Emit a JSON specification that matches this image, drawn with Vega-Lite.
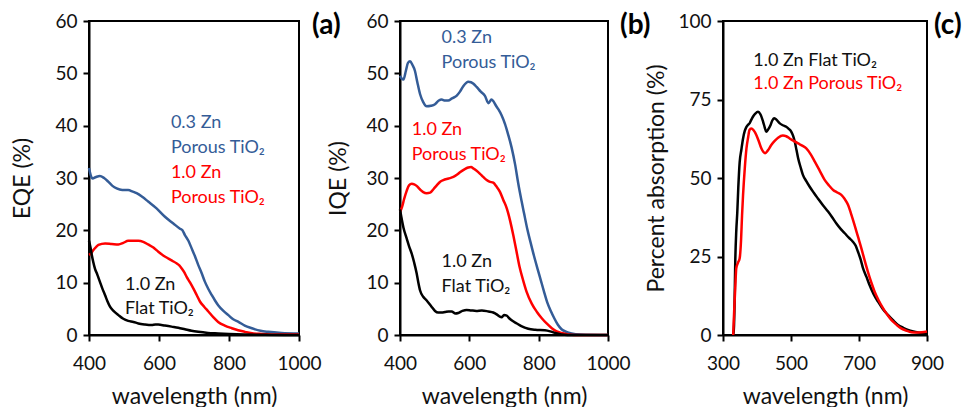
{
  "$schema": "https://vega.github.io/schema/vega-lite/v6.json",
  "autosize": {"type": "none"},
  "padding": {"left": 89, "top": 21, "right": 881, "bottom": 386},
  "background": "white",
  "config": {
    "font": "Lato",
    "view": {"stroke": "#000", "strokeWidth": 2},
    "axis": {
      "grid": false,
      "domainColor": "#000",
      "domainWidth": 2,
      "tickColor": "#000",
      "tickWidth": 2,
      "tickSize": 6,
      "labelFont": "Lato",
      "labelFontSize": 19,
      "labelColor": "#111",
      "labelFlush": false,
      "labelOverlap": false,
      "titleFont": "Lato",
      "titleFontSize": 23,
      "titleFontWeight": "normal",
      "titleColor": "#111",
      "format": "d"
    },
    "axisX": {"labelPadding": 13, "titleBaseline": "alphabetic", "titleY": 68},
    "axisY": {"labelPadding": 6, "titleAngle": 270, "titleBaseline": "middle", "titleAlign": "center", "titleY": 157},
    "text": {"font": "Lato", "fontSize": 18, "align": "left", "baseline": "alphabetic"}
  },
  "datasets": {
    "a": [
      {"series": "0.3 Zn Porous", "wl": 400, "v": 31.9}, {"series": "0.3 Zn Porous", "wl": 405, "v": 30.5}, {"series": "0.3 Zn Porous", "wl": 410, "v": 29.9}, {"series": "0.3 Zn Porous", "wl": 420, "v": 30.2}, {"series": "0.3 Zn Porous", "wl": 431, "v": 30.4}, {"series": "0.3 Zn Porous", "wl": 443, "v": 30.0}, {"series": "0.3 Zn Porous", "wl": 455, "v": 29.3}, {"series": "0.3 Zn Porous", "wl": 467, "v": 28.5}, {"series": "0.3 Zn Porous", "wl": 479, "v": 28.0}, {"series": "0.3 Zn Porous", "wl": 495, "v": 27.7}, {"series": "0.3 Zn Porous", "wl": 512, "v": 27.7}, {"series": "0.3 Zn Porous", "wl": 525, "v": 27.4}, {"series": "0.3 Zn Porous", "wl": 536, "v": 27.1}, {"series": "0.3 Zn Porous", "wl": 552, "v": 26.4}, {"series": "0.3 Zn Porous", "wl": 569, "v": 25.5}, {"series": "0.3 Zn Porous", "wl": 593, "v": 24.2}, {"series": "0.3 Zn Porous", "wl": 617, "v": 22.6}, {"series": "0.3 Zn Porous", "wl": 641, "v": 21.3}, {"series": "0.3 Zn Porous", "wl": 660, "v": 20.3}, {"series": "0.3 Zn Porous", "wl": 667, "v": 20.0}, {"series": "0.3 Zn Porous", "wl": 674, "v": 19.1}, {"series": "0.3 Zn Porous", "wl": 684, "v": 18.0}, {"series": "0.3 Zn Porous", "wl": 693, "v": 16.6}, {"series": "0.3 Zn Porous", "wl": 703, "v": 15.0}, {"series": "0.3 Zn Porous", "wl": 712, "v": 13.4}, {"series": "0.3 Zn Porous", "wl": 722, "v": 11.8}, {"series": "0.3 Zn Porous", "wl": 731, "v": 10.2}, {"series": "0.3 Zn Porous", "wl": 741, "v": 8.8}, {"series": "0.3 Zn Porous", "wl": 751, "v": 7.6}, {"series": "0.3 Zn Porous", "wl": 760, "v": 6.6}, {"series": "0.3 Zn Porous", "wl": 769, "v": 5.7}, {"series": "0.3 Zn Porous", "wl": 784, "v": 4.6}, {"series": "0.3 Zn Porous", "wl": 798, "v": 3.8}, {"series": "0.3 Zn Porous", "wl": 812, "v": 3.0}, {"series": "0.3 Zn Porous", "wl": 827, "v": 2.5}, {"series": "0.3 Zn Porous", "wl": 845, "v": 1.8}, {"series": "0.3 Zn Porous", "wl": 865, "v": 1.3}, {"series": "0.3 Zn Porous", "wl": 890, "v": 0.8}, {"series": "0.3 Zn Porous", "wl": 912, "v": 0.6}, {"series": "0.3 Zn Porous", "wl": 950, "v": 0.4}, {"series": "0.3 Zn Porous", "wl": 1000, "v": 0.3},
      {"series": "1.0 Zn Porous", "wl": 400, "v": 15.3}, {"series": "1.0 Zn Porous", "wl": 406, "v": 15.6}, {"series": "1.0 Zn Porous", "wl": 412, "v": 16.2}, {"series": "1.0 Zn Porous", "wl": 420, "v": 16.8}, {"series": "1.0 Zn Porous", "wl": 427, "v": 17.2}, {"series": "1.0 Zn Porous", "wl": 446, "v": 17.5}, {"series": "1.0 Zn Porous", "wl": 465, "v": 17.4}, {"series": "1.0 Zn Porous", "wl": 484, "v": 17.3}, {"series": "1.0 Zn Porous", "wl": 498, "v": 17.6}, {"series": "1.0 Zn Porous", "wl": 512, "v": 18.0}, {"series": "1.0 Zn Porous", "wl": 541, "v": 18.0}, {"series": "1.0 Zn Porous", "wl": 555, "v": 17.8}, {"series": "1.0 Zn Porous", "wl": 569, "v": 17.3}, {"series": "1.0 Zn Porous", "wl": 584, "v": 16.7}, {"series": "1.0 Zn Porous", "wl": 598, "v": 15.9}, {"series": "1.0 Zn Porous", "wl": 612, "v": 15.2}, {"series": "1.0 Zn Porous", "wl": 627, "v": 14.6}, {"series": "1.0 Zn Porous", "wl": 640, "v": 14.1}, {"series": "1.0 Zn Porous", "wl": 650, "v": 13.7}, {"series": "1.0 Zn Porous", "wl": 658, "v": 13.3}, {"series": "1.0 Zn Porous", "wl": 665, "v": 12.7}, {"series": "1.0 Zn Porous", "wl": 672, "v": 12.0}, {"series": "1.0 Zn Porous", "wl": 679, "v": 11.1}, {"series": "1.0 Zn Porous", "wl": 689, "v": 10.0}, {"series": "1.0 Zn Porous", "wl": 698, "v": 8.9}, {"series": "1.0 Zn Porous", "wl": 708, "v": 7.6}, {"series": "1.0 Zn Porous", "wl": 717, "v": 6.4}, {"series": "1.0 Zn Porous", "wl": 729, "v": 5.4}, {"series": "1.0 Zn Porous", "wl": 741, "v": 4.5}, {"series": "1.0 Zn Porous", "wl": 755, "v": 3.4}, {"series": "1.0 Zn Porous", "wl": 769, "v": 2.5}, {"series": "1.0 Zn Porous", "wl": 788, "v": 1.8}, {"series": "1.0 Zn Porous", "wl": 808, "v": 1.3}, {"series": "1.0 Zn Porous", "wl": 826, "v": 0.9}, {"series": "1.0 Zn Porous", "wl": 846, "v": 0.6}, {"series": "1.0 Zn Porous", "wl": 870, "v": 0.3}, {"series": "1.0 Zn Porous", "wl": 893, "v": 0.2}, {"series": "1.0 Zn Porous", "wl": 950, "v": 0.1}, {"series": "1.0 Zn Porous", "wl": 1000, "v": 0.1},
      {"series": "1.0 Zn Flat", "wl": 400, "v": 18.0}, {"series": "1.0 Zn Flat", "wl": 404, "v": 16.8}, {"series": "1.0 Zn Flat", "wl": 408, "v": 15.3}, {"series": "1.0 Zn Flat", "wl": 412, "v": 14.0}, {"series": "1.0 Zn Flat", "wl": 417, "v": 12.7}, {"series": "1.0 Zn Flat", "wl": 424, "v": 11.5}, {"series": "1.0 Zn Flat", "wl": 431, "v": 10.2}, {"series": "1.0 Zn Flat", "wl": 438, "v": 8.9}, {"series": "1.0 Zn Flat", "wl": 446, "v": 7.6}, {"series": "1.0 Zn Flat", "wl": 453, "v": 6.4}, {"series": "1.0 Zn Flat", "wl": 460, "v": 5.4}, {"series": "1.0 Zn Flat", "wl": 470, "v": 4.6}, {"series": "1.0 Zn Flat", "wl": 484, "v": 3.8}, {"series": "1.0 Zn Flat", "wl": 498, "v": 3.1}, {"series": "1.0 Zn Flat", "wl": 512, "v": 2.7}, {"series": "1.0 Zn Flat", "wl": 527, "v": 2.5}, {"series": "1.0 Zn Flat", "wl": 541, "v": 2.2}, {"series": "1.0 Zn Flat", "wl": 560, "v": 2.0}, {"series": "1.0 Zn Flat", "wl": 579, "v": 1.9}, {"series": "1.0 Zn Flat", "wl": 590, "v": 2.0}, {"series": "1.0 Zn Flat", "wl": 598, "v": 2.0}, {"series": "1.0 Zn Flat", "wl": 617, "v": 1.8}, {"series": "1.0 Zn Flat", "wl": 636, "v": 1.6}, {"series": "1.0 Zn Flat", "wl": 655, "v": 1.4}, {"series": "1.0 Zn Flat", "wl": 674, "v": 1.1}, {"series": "1.0 Zn Flat", "wl": 693, "v": 0.8}, {"series": "1.0 Zn Flat", "wl": 712, "v": 0.6}, {"series": "1.0 Zn Flat", "wl": 740, "v": 0.4}, {"series": "1.0 Zn Flat", "wl": 769, "v": 0.3}, {"series": "1.0 Zn Flat", "wl": 800, "v": 0.2}, {"series": "1.0 Zn Flat", "wl": 846, "v": 0.1}, {"series": "1.0 Zn Flat", "wl": 900, "v": 0.05}, {"series": "1.0 Zn Flat", "wl": 1000, "v": 0.0}
    ],
    "b": [
      {"series": "0.3 Zn Porous", "wl": 400, "v": 49.5}, {"series": "0.3 Zn Porous", "wl": 405, "v": 49.0}, {"series": "0.3 Zn Porous", "wl": 410, "v": 48.8}, {"series": "0.3 Zn Porous", "wl": 417, "v": 50.5}, {"series": "0.3 Zn Porous", "wl": 423, "v": 52.0}, {"series": "0.3 Zn Porous", "wl": 429, "v": 52.3}, {"series": "0.3 Zn Porous", "wl": 436, "v": 51.6}, {"series": "0.3 Zn Porous", "wl": 443, "v": 50.5}, {"series": "0.3 Zn Porous", "wl": 450, "v": 48.3}, {"series": "0.3 Zn Porous", "wl": 458, "v": 46.0}, {"series": "0.3 Zn Porous", "wl": 467, "v": 44.5}, {"series": "0.3 Zn Porous", "wl": 477, "v": 43.7}, {"series": "0.3 Zn Porous", "wl": 489, "v": 43.8}, {"series": "0.3 Zn Porous", "wl": 501, "v": 44.1}, {"series": "0.3 Zn Porous", "wl": 512, "v": 44.8}, {"series": "0.3 Zn Porous", "wl": 520, "v": 45.0}, {"series": "0.3 Zn Porous", "wl": 530, "v": 44.8}, {"series": "0.3 Zn Porous", "wl": 539, "v": 44.8}, {"series": "0.3 Zn Porous", "wl": 550, "v": 45.2}, {"series": "0.3 Zn Porous", "wl": 563, "v": 45.7}, {"series": "0.3 Zn Porous", "wl": 573, "v": 46.5}, {"series": "0.3 Zn Porous", "wl": 583, "v": 47.6}, {"series": "0.3 Zn Porous", "wl": 597, "v": 48.4}, {"series": "0.3 Zn Porous", "wl": 605, "v": 48.3}, {"series": "0.3 Zn Porous", "wl": 612, "v": 48.0}, {"series": "0.3 Zn Porous", "wl": 621, "v": 47.4}, {"series": "0.3 Zn Porous", "wl": 633, "v": 46.5}, {"series": "0.3 Zn Porous", "wl": 645, "v": 45.7}, {"series": "0.3 Zn Porous", "wl": 655, "v": 44.3}, {"series": "0.3 Zn Porous", "wl": 664, "v": 45.0}, {"series": "0.3 Zn Porous", "wl": 669, "v": 44.7}, {"series": "0.3 Zn Porous", "wl": 677, "v": 43.8}, {"series": "0.3 Zn Porous", "wl": 684, "v": 43.1}, {"series": "0.3 Zn Porous", "wl": 693, "v": 42.0}, {"series": "0.3 Zn Porous", "wl": 703, "v": 40.3}, {"series": "0.3 Zn Porous", "wl": 712, "v": 38.3}, {"series": "0.3 Zn Porous", "wl": 722, "v": 35.8}, {"series": "0.3 Zn Porous", "wl": 732, "v": 32.6}, {"series": "0.3 Zn Porous", "wl": 741, "v": 29.0}, {"series": "0.3 Zn Porous", "wl": 751, "v": 25.5}, {"series": "0.3 Zn Porous", "wl": 758, "v": 23.2}, {"series": "0.3 Zn Porous", "wl": 767, "v": 20.3}, {"series": "0.3 Zn Porous", "wl": 777, "v": 17.6}, {"series": "0.3 Zn Porous", "wl": 787, "v": 15.0}, {"series": "0.3 Zn Porous", "wl": 797, "v": 12.6}, {"series": "0.3 Zn Porous", "wl": 806, "v": 10.5}, {"series": "0.3 Zn Porous", "wl": 815, "v": 8.4}, {"series": "0.3 Zn Porous", "wl": 825, "v": 6.2}, {"series": "0.3 Zn Porous", "wl": 835, "v": 4.6}, {"series": "0.3 Zn Porous", "wl": 845, "v": 3.2}, {"series": "0.3 Zn Porous", "wl": 855, "v": 2.0}, {"series": "0.3 Zn Porous", "wl": 866, "v": 1.1}, {"series": "0.3 Zn Porous", "wl": 880, "v": 0.6}, {"series": "0.3 Zn Porous", "wl": 895, "v": 0.3}, {"series": "0.3 Zn Porous", "wl": 920, "v": 0.1}, {"series": "0.3 Zn Porous", "wl": 1000, "v": 0.0},
      {"series": "1.0 Zn Porous", "wl": 400, "v": 23.5}, {"series": "1.0 Zn Porous", "wl": 406, "v": 24.5}, {"series": "1.0 Zn Porous", "wl": 412, "v": 26.0}, {"series": "1.0 Zn Porous", "wl": 419, "v": 27.5}, {"series": "1.0 Zn Porous", "wl": 426, "v": 28.6}, {"series": "1.0 Zn Porous", "wl": 434, "v": 28.9}, {"series": "1.0 Zn Porous", "wl": 441, "v": 28.8}, {"series": "1.0 Zn Porous", "wl": 448, "v": 28.5}, {"series": "1.0 Zn Porous", "wl": 458, "v": 27.8}, {"series": "1.0 Zn Porous", "wl": 467, "v": 27.3}, {"series": "1.0 Zn Porous", "wl": 477, "v": 27.1}, {"series": "1.0 Zn Porous", "wl": 487, "v": 27.2}, {"series": "1.0 Zn Porous", "wl": 497, "v": 27.9}, {"series": "1.0 Zn Porous", "wl": 506, "v": 28.6}, {"series": "1.0 Zn Porous", "wl": 516, "v": 29.3}, {"series": "1.0 Zn Porous", "wl": 525, "v": 29.6}, {"series": "1.0 Zn Porous", "wl": 540, "v": 29.9}, {"series": "1.0 Zn Porous", "wl": 554, "v": 30.2}, {"series": "1.0 Zn Porous", "wl": 564, "v": 30.6}, {"series": "1.0 Zn Porous", "wl": 573, "v": 31.1}, {"series": "1.0 Zn Porous", "wl": 587, "v": 31.7}, {"series": "1.0 Zn Porous", "wl": 597, "v": 32.0}, {"series": "1.0 Zn Porous", "wl": 605, "v": 32.1}, {"series": "1.0 Zn Porous", "wl": 612, "v": 31.8}, {"series": "1.0 Zn Porous", "wl": 621, "v": 31.4}, {"series": "1.0 Zn Porous", "wl": 631, "v": 30.8}, {"series": "1.0 Zn Porous", "wl": 640, "v": 30.2}, {"series": "1.0 Zn Porous", "wl": 650, "v": 29.6}, {"series": "1.0 Zn Porous", "wl": 658, "v": 29.3}, {"series": "1.0 Zn Porous", "wl": 669, "v": 29.1}, {"series": "1.0 Zn Porous", "wl": 678, "v": 28.4}, {"series": "1.0 Zn Porous", "wl": 688, "v": 27.4}, {"series": "1.0 Zn Porous", "wl": 698, "v": 25.8}, {"series": "1.0 Zn Porous", "wl": 708, "v": 24.2}, {"series": "1.0 Zn Porous", "wl": 717, "v": 22.0}, {"series": "1.0 Zn Porous", "wl": 727, "v": 19.0}, {"series": "1.0 Zn Porous", "wl": 736, "v": 16.0}, {"series": "1.0 Zn Porous", "wl": 745, "v": 13.0}, {"series": "1.0 Zn Porous", "wl": 755, "v": 10.5}, {"series": "1.0 Zn Porous", "wl": 765, "v": 8.3}, {"series": "1.0 Zn Porous", "wl": 780, "v": 6.0}, {"series": "1.0 Zn Porous", "wl": 795, "v": 4.4}, {"series": "1.0 Zn Porous", "wl": 809, "v": 3.2}, {"series": "1.0 Zn Porous", "wl": 823, "v": 2.2}, {"series": "1.0 Zn Porous", "wl": 838, "v": 1.3}, {"series": "1.0 Zn Porous", "wl": 852, "v": 0.7}, {"series": "1.0 Zn Porous", "wl": 866, "v": 0.4}, {"series": "1.0 Zn Porous", "wl": 885, "v": 0.1}, {"series": "1.0 Zn Porous", "wl": 920, "v": 0.0}, {"series": "1.0 Zn Porous", "wl": 1000, "v": 0.0},
      {"series": "1.0 Zn Flat", "wl": 400, "v": 24.0}, {"series": "1.0 Zn Flat", "wl": 404, "v": 22.5}, {"series": "1.0 Zn Flat", "wl": 410, "v": 20.5}, {"series": "1.0 Zn Flat", "wl": 419, "v": 18.5}, {"series": "1.0 Zn Flat", "wl": 426, "v": 17.0}, {"series": "1.0 Zn Flat", "wl": 434, "v": 15.5}, {"series": "1.0 Zn Flat", "wl": 441, "v": 13.8}, {"series": "1.0 Zn Flat", "wl": 448, "v": 11.8}, {"series": "1.0 Zn Flat", "wl": 453, "v": 10.0}, {"series": "1.0 Zn Flat", "wl": 458, "v": 8.5}, {"series": "1.0 Zn Flat", "wl": 467, "v": 7.3}, {"series": "1.0 Zn Flat", "wl": 477, "v": 6.6}, {"series": "1.0 Zn Flat", "wl": 490, "v": 5.5}, {"series": "1.0 Zn Flat", "wl": 501, "v": 4.6}, {"series": "1.0 Zn Flat", "wl": 510, "v": 4.3}, {"series": "1.0 Zn Flat", "wl": 520, "v": 4.3}, {"series": "1.0 Zn Flat", "wl": 530, "v": 4.4}, {"series": "1.0 Zn Flat", "wl": 540, "v": 4.5}, {"series": "1.0 Zn Flat", "wl": 549, "v": 4.5}, {"series": "1.0 Zn Flat", "wl": 560, "v": 4.1}, {"series": "1.0 Zn Flat", "wl": 568, "v": 4.2}, {"series": "1.0 Zn Flat", "wl": 580, "v": 4.6}, {"series": "1.0 Zn Flat", "wl": 592, "v": 4.8}, {"series": "1.0 Zn Flat", "wl": 605, "v": 4.7}, {"series": "1.0 Zn Flat", "wl": 620, "v": 4.6}, {"series": "1.0 Zn Flat", "wl": 636, "v": 4.7}, {"series": "1.0 Zn Flat", "wl": 655, "v": 4.5}, {"series": "1.0 Zn Flat", "wl": 669, "v": 4.3}, {"series": "1.0 Zn Flat", "wl": 680, "v": 3.9}, {"series": "1.0 Zn Flat", "wl": 688, "v": 3.5}, {"series": "1.0 Zn Flat", "wl": 693, "v": 3.4}, {"series": "1.0 Zn Flat", "wl": 700, "v": 3.8}, {"series": "1.0 Zn Flat", "wl": 708, "v": 3.7}, {"series": "1.0 Zn Flat", "wl": 715, "v": 3.2}, {"series": "1.0 Zn Flat", "wl": 722, "v": 2.8}, {"series": "1.0 Zn Flat", "wl": 737, "v": 2.2}, {"series": "1.0 Zn Flat", "wl": 750, "v": 1.7}, {"series": "1.0 Zn Flat", "wl": 770, "v": 1.2}, {"series": "1.0 Zn Flat", "wl": 790, "v": 1.0}, {"series": "1.0 Zn Flat", "wl": 818, "v": 0.9}, {"series": "1.0 Zn Flat", "wl": 833, "v": 0.7}, {"series": "1.0 Zn Flat", "wl": 847, "v": 0.4}, {"series": "1.0 Zn Flat", "wl": 866, "v": 0.1}, {"series": "1.0 Zn Flat", "wl": 900, "v": 0.0}, {"series": "1.0 Zn Flat", "wl": 1000, "v": 0.0}
    ],
    "c": [
      {"series": "1.0 Zn Flat", "wl": 330, "v": 0}, {"series": "1.0 Zn Flat", "wl": 332, "v": 2}, {"series": "1.0 Zn Flat", "wl": 334, "v": 10}, {"series": "1.0 Zn Flat", "wl": 336, "v": 23}, {"series": "1.0 Zn Flat", "wl": 339, "v": 33}, {"series": "1.0 Zn Flat", "wl": 342, "v": 39}, {"series": "1.0 Zn Flat", "wl": 345, "v": 47}, {"series": "1.0 Zn Flat", "wl": 349, "v": 55}, {"series": "1.0 Zn Flat", "wl": 354, "v": 59}, {"series": "1.0 Zn Flat", "wl": 359, "v": 62.6}, {"series": "1.0 Zn Flat", "wl": 364, "v": 65}, {"series": "1.0 Zn Flat", "wl": 369, "v": 66.3}, {"series": "1.0 Zn Flat", "wl": 374, "v": 67}, {"series": "1.0 Zn Flat", "wl": 378, "v": 67.4}, {"series": "1.0 Zn Flat", "wl": 383, "v": 68.5}, {"series": "1.0 Zn Flat", "wl": 388, "v": 69.5}, {"series": "1.0 Zn Flat", "wl": 395, "v": 70.5}, {"series": "1.0 Zn Flat", "wl": 403, "v": 71.1}, {"series": "1.0 Zn Flat", "wl": 410, "v": 70.3}, {"series": "1.0 Zn Flat", "wl": 418, "v": 67.9}, {"series": "1.0 Zn Flat", "wl": 423, "v": 66}, {"series": "1.0 Zn Flat", "wl": 427, "v": 64.7}, {"series": "1.0 Zn Flat", "wl": 433, "v": 65.5}, {"series": "1.0 Zn Flat", "wl": 440, "v": 66.9}, {"series": "1.0 Zn Flat", "wl": 445, "v": 68.3}, {"series": "1.0 Zn Flat", "wl": 450, "v": 69.0}, {"series": "1.0 Zn Flat", "wl": 456, "v": 68.7}, {"series": "1.0 Zn Flat", "wl": 467, "v": 67.4}, {"series": "1.0 Zn Flat", "wl": 476, "v": 66.8}, {"series": "1.0 Zn Flat", "wl": 486, "v": 66.3}, {"series": "1.0 Zn Flat", "wl": 494, "v": 65.6}, {"series": "1.0 Zn Flat", "wl": 501, "v": 64.7}, {"series": "1.0 Zn Flat", "wl": 506, "v": 63.5}, {"series": "1.0 Zn Flat", "wl": 511, "v": 61.6}, {"series": "1.0 Zn Flat", "wl": 516, "v": 59}, {"series": "1.0 Zn Flat", "wl": 521, "v": 56.3}, {"series": "1.0 Zn Flat", "wl": 528, "v": 53.5}, {"series": "1.0 Zn Flat", "wl": 535, "v": 51.0}, {"series": "1.0 Zn Flat", "wl": 545, "v": 49.0}, {"series": "1.0 Zn Flat", "wl": 555, "v": 47.2}, {"series": "1.0 Zn Flat", "wl": 567, "v": 45.3}, {"series": "1.0 Zn Flat", "wl": 579, "v": 43.5}, {"series": "1.0 Zn Flat", "wl": 594, "v": 41.3}, {"series": "1.0 Zn Flat", "wl": 609, "v": 39.3}, {"series": "1.0 Zn Flat", "wl": 621, "v": 37.5}, {"series": "1.0 Zn Flat", "wl": 633, "v": 35.6}, {"series": "1.0 Zn Flat", "wl": 646, "v": 33.8}, {"series": "1.0 Zn Flat", "wl": 658, "v": 32.4}, {"series": "1.0 Zn Flat", "wl": 670, "v": 31.0}, {"series": "1.0 Zn Flat", "wl": 682, "v": 29.7}, {"series": "1.0 Zn Flat", "wl": 690, "v": 28.5}, {"series": "1.0 Zn Flat", "wl": 697, "v": 26.5}, {"series": "1.0 Zn Flat", "wl": 705, "v": 24.0}, {"series": "1.0 Zn Flat", "wl": 712, "v": 21.2}, {"series": "1.0 Zn Flat", "wl": 722, "v": 18.5}, {"series": "1.0 Zn Flat", "wl": 731, "v": 15.9}, {"series": "1.0 Zn Flat", "wl": 743, "v": 13.0}, {"series": "1.0 Zn Flat", "wl": 756, "v": 10.6}, {"series": "1.0 Zn Flat", "wl": 770, "v": 8.3}, {"series": "1.0 Zn Flat", "wl": 785, "v": 6.4}, {"series": "1.0 Zn Flat", "wl": 800, "v": 4.7}, {"series": "1.0 Zn Flat", "wl": 815, "v": 3.2}, {"series": "1.0 Zn Flat", "wl": 830, "v": 2.3}, {"series": "1.0 Zn Flat", "wl": 844, "v": 1.6}, {"series": "1.0 Zn Flat", "wl": 860, "v": 1.1}, {"series": "1.0 Zn Flat", "wl": 874, "v": 0.8}, {"series": "1.0 Zn Flat", "wl": 900, "v": 0.5},
      {"series": "1.0 Zn Porous", "wl": 330, "v": 0}, {"series": "1.0 Zn Porous", "wl": 333, "v": 8}, {"series": "1.0 Zn Porous", "wl": 336, "v": 15}, {"series": "1.0 Zn Porous", "wl": 339, "v": 21.2}, {"series": "1.0 Zn Porous", "wl": 344, "v": 23}, {"series": "1.0 Zn Porous", "wl": 349, "v": 24.4}, {"series": "1.0 Zn Porous", "wl": 353, "v": 30}, {"series": "1.0 Zn Porous", "wl": 356, "v": 38}, {"series": "1.0 Zn Porous", "wl": 359, "v": 44.6}, {"series": "1.0 Zn Porous", "wl": 364, "v": 53}, {"series": "1.0 Zn Porous", "wl": 369, "v": 59.4}, {"series": "1.0 Zn Porous", "wl": 374, "v": 63}, {"series": "1.0 Zn Porous", "wl": 378, "v": 65.3}, {"series": "1.0 Zn Porous", "wl": 383, "v": 65.8}, {"series": "1.0 Zn Porous", "wl": 390, "v": 65.2}, {"series": "1.0 Zn Porous", "wl": 398, "v": 63.7}, {"series": "1.0 Zn Porous", "wl": 405, "v": 61.8}, {"series": "1.0 Zn Porous", "wl": 413, "v": 59.4}, {"series": "1.0 Zn Porous", "wl": 419, "v": 58.3}, {"series": "1.0 Zn Porous", "wl": 424, "v": 57.9}, {"series": "1.0 Zn Porous", "wl": 432, "v": 58.8}, {"series": "1.0 Zn Porous", "wl": 442, "v": 60.5}, {"series": "1.0 Zn Porous", "wl": 452, "v": 61.8}, {"series": "1.0 Zn Porous", "wl": 462, "v": 62.8}, {"series": "1.0 Zn Porous", "wl": 476, "v": 63.5}, {"series": "1.0 Zn Porous", "wl": 486, "v": 63.3}, {"series": "1.0 Zn Porous", "wl": 496, "v": 62.6}, {"series": "1.0 Zn Porous", "wl": 508, "v": 61.8}, {"series": "1.0 Zn Porous", "wl": 521, "v": 61.0}, {"series": "1.0 Zn Porous", "wl": 533, "v": 60.3}, {"series": "1.0 Zn Porous", "wl": 545, "v": 59.4}, {"series": "1.0 Zn Porous", "wl": 558, "v": 57.5}, {"series": "1.0 Zn Porous", "wl": 570, "v": 55.2}, {"series": "1.0 Zn Porous", "wl": 585, "v": 52.2}, {"series": "1.0 Zn Porous", "wl": 599, "v": 49.4}, {"series": "1.0 Zn Porous", "wl": 612, "v": 47.6}, {"series": "1.0 Zn Porous", "wl": 624, "v": 46.2}, {"series": "1.0 Zn Porous", "wl": 636, "v": 45.4}, {"series": "1.0 Zn Porous", "wl": 648, "v": 44.6}, {"series": "1.0 Zn Porous", "wl": 658, "v": 43.3}, {"series": "1.0 Zn Porous", "wl": 668, "v": 41.4}, {"series": "1.0 Zn Porous", "wl": 677, "v": 38.5}, {"series": "1.0 Zn Porous", "wl": 687, "v": 35.0}, {"series": "1.0 Zn Porous", "wl": 697, "v": 31.3}, {"series": "1.0 Zn Porous", "wl": 707, "v": 27.6}, {"series": "1.0 Zn Porous", "wl": 716, "v": 24.0}, {"series": "1.0 Zn Porous", "wl": 726, "v": 20.2}, {"series": "1.0 Zn Porous", "wl": 736, "v": 16.8}, {"series": "1.0 Zn Porous", "wl": 746, "v": 13.8}, {"series": "1.0 Zn Porous", "wl": 758, "v": 11.0}, {"series": "1.0 Zn Porous", "wl": 771, "v": 8.5}, {"series": "1.0 Zn Porous", "wl": 783, "v": 6.5}, {"series": "1.0 Zn Porous", "wl": 795, "v": 4.8}, {"series": "1.0 Zn Porous", "wl": 810, "v": 3.3}, {"series": "1.0 Zn Porous", "wl": 824, "v": 2.1}, {"series": "1.0 Zn Porous", "wl": 839, "v": 1.4}, {"series": "1.0 Zn Porous", "wl": 854, "v": 0.9}, {"series": "1.0 Zn Porous", "wl": 870, "v": 0.8}, {"series": "1.0 Zn Porous", "wl": 885, "v": 0.9}, {"series": "1.0 Zn Porous", "wl": 900, "v": 1.1}
    ]
  },
  "bounds": "flush",
  "spacing": 101,
  "hconcat": [
    {
      "width": 210,
      "height": 314,
      "layer": [
        {
          "data": {"name": "a"},
          "mark": {"type": "line", "strokeWidth": 2.5, "interpolate": "monotone"},
          "encoding": {
            "x": {"field": "wl", "type": "quantitative", "scale": {"domain": [400, 1000], "nice": false, "zero": false}, "axis": {"values": [400, 600, 800, 1000], "title": "wavelength (nm)", "titleX": 105}},
            "y": {"field": "v", "type": "quantitative", "scale": {"domain": [0, 60], "nice": false}, "axis": {"values": [0, 10, 20, 30, 40, 50, 60], "title": "EQE (%)", "titleX": -67}},
            "color": {"field": "series", "type": "nominal", "scale": {"domain": ["0.3 Zn Porous", "1.0 Zn Porous", "1.0 Zn Flat"], "range": ["#345c97", "#ff0000", "#000000"]}, "legend": null}
          }
        },
        {"data": {"values": [{}]}, "mark": {"type": "text", "text": "0.3 Zn", "color": "#345c97"}, "encoding": {"x": {"datum": 634, "type": "quantitative"}, "y": {"datum": 39.6, "type": "quantitative"}}},
        {"data": {"values": [{}]}, "mark": {"type": "text", "text": "Porous TiO₂", "color": "#345c97"}, "encoding": {"x": {"datum": 634, "type": "quantitative"}, "y": {"datum": 34.8, "type": "quantitative"}}},
        {"data": {"values": [{}]}, "mark": {"type": "text", "text": "1.0 Zn", "color": "#ff0000"}, "encoding": {"x": {"datum": 634, "type": "quantitative"}, "y": {"datum": 30.0, "type": "quantitative"}}},
        {"data": {"values": [{}]}, "mark": {"type": "text", "text": "Porous TiO₂", "color": "#ff0000"}, "encoding": {"x": {"datum": 634, "type": "quantitative"}, "y": {"datum": 25.2, "type": "quantitative"}}},
        {"data": {"values": [{}]}, "mark": {"type": "text", "text": "1.0 Zn", "color": "#111"}, "encoding": {"x": {"datum": 503, "type": "quantitative"}, "y": {"datum": 8.6, "type": "quantitative"}}},
        {"data": {"values": [{}]}, "mark": {"type": "text", "text": "Flat TiO₂", "color": "#111"}, "encoding": {"x": {"datum": 503, "type": "quantitative"}, "y": {"datum": 4.0, "type": "quantitative"}}},
        {"data": {"values": [{}]}, "mark": {"type": "text", "text": "(a)", "color": "#000", "fontSize": 28, "fontWeight": "bold", "dx": 13, "dy": 13}, "encoding": {"x": {"datum": 1000, "type": "quantitative"}, "y": {"datum": 60, "type": "quantitative"}}}
      ]
    },
    {
      "bounds": "flush",
      "spacing": 115,
      "hconcat": [
        {
          "width": 208,
          "height": 314,
          "layer": [
            {
              "data": {"name": "b"},
              "mark": {"type": "line", "strokeWidth": 2.5, "interpolate": "monotone"},
              "encoding": {
                "x": {"field": "wl", "type": "quantitative", "scale": {"domain": [400, 1000], "nice": false, "zero": false}, "axis": {"values": [400, 600, 800, 1000], "title": "wavelength (nm)", "titleX": 104}},
                "y": {"field": "v", "type": "quantitative", "scale": {"domain": [0, 60], "nice": false}, "axis": {"values": [0, 10, 20, 30, 40, 50, 60], "title": "IQE (%)", "titleX": -62}},
                "color": {"field": "series", "type": "nominal", "scale": {"domain": ["0.3 Zn Porous", "1.0 Zn Porous", "1.0 Zn Flat"], "range": ["#345c97", "#ff0000", "#000000"]}, "legend": null}
              }
            },
            {"data": {"values": [{}]}, "mark": {"type": "text", "text": "0.3 Zn", "color": "#345c97"}, "encoding": {"x": {"datum": 520, "type": "quantitative"}, "y": {"datum": 55.8, "type": "quantitative"}}},
            {"data": {"values": [{}]}, "mark": {"type": "text", "text": "Porous TiO₂", "color": "#345c97"}, "encoding": {"x": {"datum": 520, "type": "quantitative"}, "y": {"datum": 51.0, "type": "quantitative"}}},
            {"data": {"values": [{}]}, "mark": {"type": "text", "text": "1.0 Zn", "color": "#ff0000"}, "encoding": {"x": {"datum": 434, "type": "quantitative"}, "y": {"datum": 38.3, "type": "quantitative"}}},
            {"data": {"values": [{}]}, "mark": {"type": "text", "text": "Porous TiO₂", "color": "#ff0000"}, "encoding": {"x": {"datum": 434, "type": "quantitative"}, "y": {"datum": 33.5, "type": "quantitative"}}},
            {"data": {"values": [{}]}, "mark": {"type": "text", "text": "1.0 Zn", "color": "#111"}, "encoding": {"x": {"datum": 520, "type": "quantitative"}, "y": {"datum": 13.0, "type": "quantitative"}}},
            {"data": {"values": [{}]}, "mark": {"type": "text", "text": "Flat TiO₂", "color": "#111"}, "encoding": {"x": {"datum": 520, "type": "quantitative"}, "y": {"datum": 8.2, "type": "quantitative"}}},
            {"data": {"values": [{}]}, "mark": {"type": "text", "text": "(b)", "color": "#000", "fontSize": 28, "fontWeight": "bold", "dx": 12, "dy": 13}, "encoding": {"x": {"datum": 1000, "type": "quantitative"}, "y": {"datum": 60, "type": "quantitative"}}}
          ]
        },
        {
          "width": 204,
          "height": 314,
          "layer": [
            {
              "data": {"name": "c"},
              "mark": {"type": "line", "strokeWidth": 2.5, "interpolate": "monotone"},
              "encoding": {
                "x": {"field": "wl", "type": "quantitative", "scale": {"domain": [300, 900], "nice": false, "zero": false}, "axis": {"values": [300, 400, 500, 600, 700, 800, 900], "labelExpr": "datum.value % 200 == 100 ? datum.label : ''", "title": "wavelength (nm)", "titleX": 102}},
                "y": {"field": "v", "type": "quantitative", "scale": {"domain": [0, 100], "nice": false}, "axis": {"values": [0, 25, 50, 75, 100], "title": "Percent absorption (%)", "titleX": -67}},
                "color": {"field": "series", "type": "nominal", "scale": {"domain": ["1.0 Zn Flat", "1.0 Zn Porous"], "range": ["#000000", "#ff0000"]}, "legend": null}
              }
            },
            {"data": {"values": [{}]}, "mark": {"type": "text", "text": "1.0 Zn Flat TiO₂", "color": "#111"}, "encoding": {"x": {"datum": 389, "type": "quantitative"}, "y": {"datum": 85.8, "type": "quantitative"}}},
            {"data": {"values": [{}]}, "mark": {"type": "text", "text": "1.0 Zn Porous TiO₂", "color": "#ff0000"}, "encoding": {"x": {"datum": 389, "type": "quantitative"}, "y": {"datum": 78.2, "type": "quantitative"}}},
            {"data": {"values": [{}]}, "mark": {"type": "text", "text": "(c)", "color": "#000", "fontSize": 28, "fontWeight": "bold", "dx": 7, "dy": 13}, "encoding": {"x": {"datum": 900, "type": "quantitative"}, "y": {"datum": 100, "type": "quantitative"}}}
          ]
        }
      ]
    }
  ]
}
